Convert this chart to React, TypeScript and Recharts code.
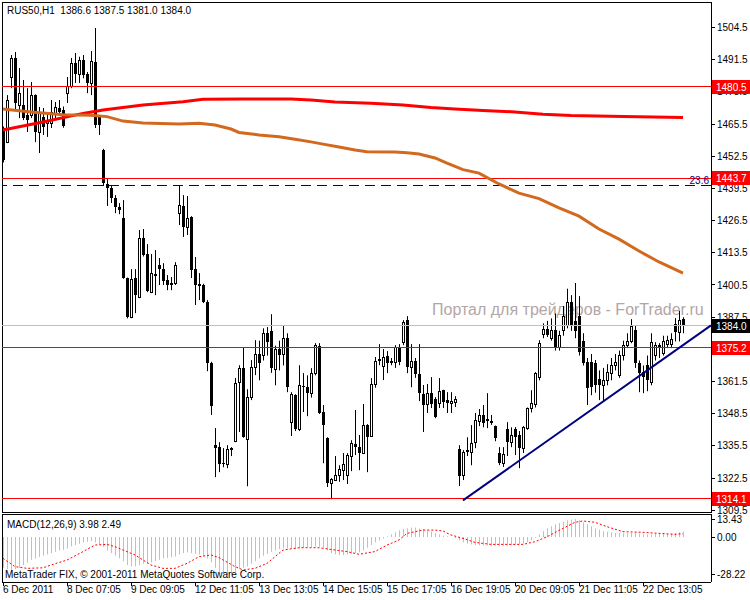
import { ComposedChart, Bar, Line, XAxis, YAxis, ReferenceLine } from 'recharts';

const FONT = '"Liberation Sans", Arial, sans-serif';

// hourly bars, left to right
const opens = [
  1463.9, 1458.2, 1484.5, 1492.2, 1473.2, 1473.2, 1469.1, 1469.1, 1477.2, 1462.3,
  1468.3, 1465.9, 1465.9, 1469.9, 1472.0, 1471.2, 1478.0, 1480.9, 1490.2, 1485.7,
  1491.4, 1485.7, 1482.1, 1490.6, 1468.3, 1455.0, 1441.3, 1439.6, 1435.6, 1432.0,
  1427.5, 1403.3, 1387.5, 1403.3, 1395.6, 1419.4, 1413.0, 1397.6, 1405.0, 1408.5,
  1406.9, 1402.5, 1401.3, 1401.3, 1429.5, 1432.4, 1423.9, 1427.9, 1406.9, 1400.9,
  1400.5, 1393.6, 1369.0, 1335.8, 1335.0, 1328.5, 1328.1, 1334.4, 1337.4, 1361.3,
  1366.9, 1338.2, 1355.2, 1367.3, 1372.6, 1372.2, 1381.1, 1382.0, 1366.5, 1374.6,
  1372.6, 1379.0, 1345.1, 1356.0, 1342.3, 1359.7, 1359.2, 1356.8, 1364.9, 1375.8,
  1349.2, 1338.6, 1320.5, 1321.7, 1323.7, 1325.7, 1323.7, 1331.4, 1336.2, 1335.0,
  1332.6, 1343.9, 1339.5, 1360.5, 1370.6, 1367.7, 1371.8, 1369.8, 1369.4, 1375.4,
  1377.4, 1386.3, 1367.3, 1369.8, 1364.5, 1356.4, 1352.4, 1356.8, 1354.4, 1352.8,
  1358.0, 1354.0, 1352.8, 1353.2, 1334.2, 1323.7, 1333.8, 1333.0, 1337.0, 1345.5,
  1347.9, 1346.3, 1345.1, 1343.5, 1332.6, 1328.5, 1342.3, 1337.0, 1342.3, 1339.9,
  1334.6, 1342.7, 1350.8, 1352.4, 1363.3, 1380.7, 1382.7, 1379.1, 1382.3, 1375.4,
  1382.3, 1384.3, 1393.6, 1386.0, 1388.0, 1378.0, 1369.4, 1369.4, 1369.0, 1362.5,
  1360.0, 1362.1, 1364.9, 1368.1, 1364.1, 1372.2, 1376.2, 1377.9, 1382.3, 1369.0,
  1365.3, 1368.0, 1361.3, 1372.2, 1376.2, 1373.0, 1376.6, 1376.6, 1384.7, 1381.5,
  1386.6,
];
const highs = [
  1464.5, 1477.2, 1493.4, 1494.6, 1488.1, 1483.3, 1480.0, 1482.5, 1477.5, 1472.4,
  1472.0, 1469.9, 1475.2, 1474.4, 1475.2, 1472.6, 1484.5, 1492.2, 1494.2, 1492.7,
  1493.4, 1486.5, 1495.0, 1504.3, 1469.1, 1455.5, 1443.7, 1440.9, 1436.8, 1433.6,
  1434.8, 1403.5, 1406.9, 1406.9, 1422.7, 1423.1, 1417.0, 1413.0, 1414.6, 1411.4,
  1409.3, 1404.5, 1403.7, 1409.7, 1440.5, 1436.8, 1436.4, 1428.3, 1411.8, 1405.3,
  1401.0, 1394.4, 1369.5, 1342.7, 1337.0, 1334.6, 1335.8, 1335.0, 1362.9, 1368.1,
  1375.4, 1358.4, 1370.2, 1378.2, 1378.0, 1383.0, 1383.5, 1388.7, 1376.0, 1378.0,
  1384.3, 1381.0, 1357.2, 1356.4, 1368.1, 1364.9, 1364.0, 1366.9, 1377.0, 1377.0,
  1352.0, 1339.0, 1322.5, 1331.4, 1327.7, 1332.6, 1332.6, 1337.8, 1350.0, 1339.9,
  1352.4, 1344.3, 1362.9, 1371.4, 1376.6, 1374.6, 1373.8, 1371.0, 1376.2, 1376.6,
  1386.3, 1387.9, 1376.6, 1371.0, 1376.6, 1360.1, 1360.5, 1363.3, 1355.2, 1362.9,
  1358.2, 1357.2, 1357.2, 1355.6, 1335.8, 1333.8, 1339.0, 1343.9, 1348.8, 1350.4,
  1352.0, 1356.8, 1348.0, 1343.7, 1335.0, 1335.0, 1345.1, 1343.0, 1343.1, 1341.5,
  1343.5, 1351.0, 1358.0, 1365.3, 1378.2, 1385.0, 1386.0, 1387.0, 1389.0, 1382.0,
  1392.0, 1399.0, 1396.4, 1401.3, 1396.0, 1381.0, 1371.0, 1372.6, 1370.2, 1366.0,
  1367.0, 1368.5, 1371.0, 1372.6, 1374.0, 1378.0, 1381.0, 1386.7, 1384.3, 1370.0,
  1368.0, 1372.0, 1381.0, 1377.4, 1377.0, 1380.0, 1380.0, 1381.0, 1387.1, 1390.0,
  1387.5,
];
const lows = [
  1450.0, 1457.8, 1480.0, 1471.2, 1467.9, 1467.1, 1462.3, 1467.9, 1458.2, 1453.8,
  1461.1, 1460.3, 1463.9, 1467.9, 1469.0, 1464.0, 1474.0, 1480.0, 1482.1, 1482.1,
  1484.0, 1478.0, 1477.2, 1463.9, 1461.1, 1440.5, 1432.4, 1433.6, 1429.5, 1429.1,
  1403.0, 1387.0, 1387.1, 1389.1, 1395.2, 1412.0, 1397.6, 1397.2, 1396.4, 1400.5,
  1400.5, 1398.4, 1398.4, 1400.5, 1424.7, 1419.9, 1420.7, 1403.3, 1392.4, 1394.4,
  1393.2, 1365.7, 1348.0, 1322.9, 1324.9, 1326.9, 1326.5, 1331.4, 1337.0, 1341.1,
  1338.8, 1319.2, 1354.0, 1364.1, 1362.0, 1370.0, 1372.0, 1365.0, 1360.0, 1366.0,
  1368.0, 1357.2, 1339.5, 1341.5, 1341.5, 1349.2, 1347.5, 1355.0, 1364.0, 1348.4,
  1328.5, 1318.9, 1314.0, 1321.3, 1321.0, 1321.7, 1320.1, 1325.3, 1331.8, 1325.7,
  1332.2, 1324.9, 1339.1, 1359.0, 1368.1, 1362.1, 1364.9, 1368.1, 1367.0, 1368.1,
  1376.2, 1364.9, 1359.2, 1363.0, 1353.6, 1341.1, 1348.8, 1350.8, 1346.7, 1350.8,
  1350.8, 1348.8, 1348.8, 1351.2, 1319.3, 1321.7, 1331.4, 1327.7, 1334.6, 1343.5,
  1343.0, 1342.7, 1344.0, 1337.4, 1327.7, 1327.0, 1331.4, 1335.0, 1331.8, 1326.5,
  1332.6, 1342.0, 1349.0, 1351.0, 1362.0, 1379.0, 1379.5, 1378.0, 1374.0, 1374.0,
  1380.0, 1383.0, 1382.0, 1379.0, 1372.0, 1368.0, 1352.0, 1356.0, 1357.0, 1354.0,
  1353.5, 1360.0, 1362.0, 1366.0, 1363.0, 1370.0, 1375.0, 1377.0, 1367.0, 1357.2,
  1356.8, 1357.6, 1360.0, 1370.0, 1371.0, 1372.0, 1375.0, 1375.0, 1377.7, 1377.7,
  1381.0,
];
const closes = [
  1451.0, 1475.2, 1492.2, 1474.0, 1478.0, 1467.9, 1467.1, 1477.2, 1462.3, 1469.9,
  1464.3, 1467.1, 1470.4, 1472.4, 1470.4, 1464.7, 1480.9, 1490.2, 1485.7, 1491.4,
  1485.3, 1482.1, 1491.0, 1465.1, 1465.1, 1441.7, 1439.6, 1435.6, 1432.0, 1430.8,
  1403.3, 1387.5, 1402.9, 1396.4, 1419.4, 1412.6, 1398.0, 1405.3, 1404.1, 1406.9,
  1402.1, 1400.5, 1400.5, 1408.5, 1432.8, 1423.9, 1427.5, 1406.5, 1400.5, 1400.1,
  1393.6, 1369.0, 1351.6, 1334.6, 1328.1, 1328.1, 1334.2, 1334.6, 1360.9, 1366.9,
  1339.1, 1355.2, 1367.3, 1372.6, 1369.0, 1381.1, 1377.5, 1367.0, 1374.6, 1372.2,
  1379.0, 1359.2, 1356.4, 1342.3, 1360.1, 1359.2, 1356.8, 1364.9, 1376.2, 1348.8,
  1343.9, 1320.5, 1322.1, 1323.7, 1326.1, 1328.1, 1331.8, 1336.6, 1335.0, 1332.6,
  1343.9, 1339.1, 1360.5, 1369.8, 1369.8, 1371.4, 1368.9, 1368.9, 1375.4, 1369.4,
  1385.5, 1367.3, 1369.8, 1364.5, 1356.8, 1352.0, 1356.8, 1352.4, 1347.1, 1357.6,
  1353.2, 1352.8, 1353.6, 1354.4, 1323.3, 1333.0, 1333.0, 1336.6, 1345.9, 1347.9,
  1344.7, 1345.5, 1345.5, 1338.6, 1328.5, 1332.2, 1337.0, 1339.9, 1339.1, 1334.6,
  1343.1, 1350.8, 1352.8, 1364.9, 1377.0, 1382.7, 1380.3, 1382.3, 1375.4, 1380.3,
  1387.9, 1393.6, 1384.3, 1382.0, 1373.4, 1369.0, 1358.8, 1359.2, 1360.0, 1360.0,
  1362.1, 1365.3, 1368.1, 1369.4, 1372.2, 1376.2, 1377.9, 1384.0, 1369.0, 1364.9,
  1363.3, 1362.0, 1377.4, 1376.2, 1375.0, 1377.9, 1378.2, 1378.6, 1381.5, 1386.3,
  1384.0,
];

// moving averages, read at a few bars
const slowMaBars = [0, 10, 20, 25, 35, 45, 50, 60, 72, 77, 83, 92, 100, 107, 113, 120, 128, 135, 142, 155, 170];
const slowMaValues = [1463.1, 1466.3, 1469.8, 1471.2, 1473.2, 1474.5, 1475.5, 1475.6, 1475.6, 1475.2, 1474.4, 1473.9, 1473.2, 1472.2, 1471.6, 1471.0, 1470.4, 1469.5, 1469.0, 1468.6, 1468.1];
const fastMaBars = [0, 7, 15, 22, 26, 30, 35, 44, 49, 53, 57, 59, 64, 69, 73, 77, 80, 84, 88, 91, 98, 101, 104, 108, 111, 115, 119, 124, 129, 134, 139, 144, 149, 154, 159, 164, 170];
const fastMaValues = [1471.6, 1470.4, 1469.3, 1469.1, 1468.5, 1466.7, 1465.9, 1465.5, 1465.8, 1465.1, 1463.5, 1462.1, 1461.1, 1460.4, 1459.4, 1458.3, 1457.4, 1456.2, 1455.0, 1454.3, 1454.2, 1453.9, 1453.4, 1451.8, 1449.7, 1447.1, 1445.7, 1441.3, 1437.6, 1435.4, 1431.6, 1428.3, 1423.1, 1419.0, 1414.2, 1409.8, 1405.3];

// MACD(12,26,9) main values per bar
const macdValues = [
  -23, -24, -25, -24, -23, -21, -19, -17, -16, -15,
  -14, -13, -12, -11, -10, -9.5, -8.5, -7, -6, -5,
  -4, -3.5, -3, -4, -5.5, -7.5, -10, -12, -14, -16,
  -18, -21, -22, -22, -21, -20, -20, -19, -18, -17,
  -16, -15.5, -15, -14.5, -13, -12, -11.5, -12, -12.5, -13,
  -14, -16, -19, -23, -26, -27.5, -28.2, -28, -26, -24,
  -23, -22, -20, -18, -16, -14, -12.5, -11, -10, -9,
  -8.5, -8.5, -8.8, -9, -8.5, -8, -7.8, -7.5, -7, -7.2,
  -8, -10, -12, -13, -13.5, -13.5, -13, -12.5, -12, -11.5,
  -10, -8, -6, -4, -2.5, -1, 0.5, 2, 3.5, 5,
  6, 6.5, 7, 7, 6.5, 6, 5, 4, 3, 2,
  1, 0.5, 0, -1, -2.5, -4, -5, -5.5, -6, -6.2,
  -6.2, -6.3, -6.3, -6.3, -6.5, -6.5, -6.2, -6, -5.8, -5.5,
  -5, -4, -2.5, -0.5, 2, 4.5, 6.5, 8, 9.5, 10.5,
  11.5, 12.5, 13, 13.43, 12.5, 11, 9.5, 8, 6.5, 5.5,
  4.5, 4, 3.5, 3, 3, 2.8, 2.8, 3, 3, 2.5,
  2, 1.8, 2, 2.2, 2.3, 2.3, 2.4, 2.5, 3, 3.5,
  3.98,
];
const signalBars = [0, 3, 6, 10, 12, 16, 20, 23, 26, 28, 33, 37, 40, 43, 46, 49, 52, 54, 58, 60, 63, 66, 70, 74, 79, 83, 86, 89, 93, 96, 99, 101, 105, 108, 110, 112, 115, 118, 122, 130, 133, 136, 140, 143, 145, 148, 151, 155, 160, 168, 170];
const signalValues = [-15.9, -22.1, -23.4, -23.0, -20.9, -17.2, -10.9, -6.0, -5.5, -7.2, -13.4, -20.9, -23.4, -23.4, -19.7, -14.7, -13.4, -15.4, -22.1, -24.6, -23.4, -19.7, -9.7, -8.0, -8.0, -9.7, -10.9, -12.9, -10.9, -6.0, -2.2, 2.7, 5.2, 5.2, 4.5, 1.5, -1.0, -4.0, -5.5, -5.5, -3.5, 0.2, 6.5, 11.0, 12.0, 11.0, 7.7, 4.0, 3.5, 2.0, 2.49];

const timeTicks = [0, 16, 32, 48, 64, 80, 96, 112, 128, 144, 160];
const timeLabels = ['6 Dec 2011', '8 Dec 07:05', '9 Dec 09:05', '12 Dec 11:05', '13 Dec 13:05', '14 Dec 15:05', '15 Dec 17:05', '16 Dec 19:05', '20 Dec 09:05', '21 Dec 11:05', '22 Dec 13:05'];
const priceTicks = [1504.5, 1491.5, 1478.5, 1465.5, 1452.5, 1439.5, 1426.5, 1413.5, 1400.5, 1387.5, 1374.5, 1361.5, 1348.5, 1335.5, 1322.5, 1309.5];
const macdTicks = [13.43, 0, -28.22];

const redLevels = [1480.5, 1443.7, 1375.2, 1314.1];
const bidPrice = 1384.0;
const fiboLevel = 1440.5;
const trendStart = { x: 115, y: 1313.5 };
const trendEnd = { x: 177, y: 1384.2 };

const priceDomain = [1308.8, 1514.8];
const macdDomain = [-33.6, 17.2];
const barDomain = [-0.25, 177];

const bars = opens.map((o, i) => ({
  i,
  open: o,
  high: highs[i],
  low: lows[i],
  close: closes[i],
  range: [lows[i], highs[i]],
  macd: macdValues[i],
  slow: undefined as number | undefined,
  fast: undefined as number | undefined,
  signal: undefined as number | undefined,
}));
slowMaBars.forEach((b, k) => { bars[b].slow = slowMaValues[k]; });
fastMaBars.forEach((b, k) => { bars[b].fast = fastMaValues[k]; });
signalBars.forEach((b, k) => { bars[b].signal = signalValues[k]; });

function Candle(props: any) {
  const { x, y, width, height, payload } = props;
  if (x == null || payload == null) return null;
  const top = Math.min(y, y + height);
  const h = Math.abs(height);
  const { open, close, high, low } = payload;
  const toY = (v: number) => (high === low ? top : top + ((high - v) / (high - low)) * h);
  const cx = Math.round(x + width / 2);
  const yo = toY(open);
  const yc = toY(close);
  const bTop = Math.round(Math.min(yo, yc));
  const bBot = Math.round(Math.max(yo, yc));
  return (
    <g>
      <rect x={cx} y={top} width={1} height={Math.max(h, 1)} fill="#000" />
      {close >= open ? (
        <rect x={cx - 0.5} y={bTop + 0.5} width={2} height={Math.max(bBot - bTop, 1)} fill="#fff" stroke="#000" strokeWidth={1} />
      ) : (
        <rect x={cx - 1} y={bTop} width={3} height={Math.max(bBot - bTop, 1)} fill="#000" />
      )}
    </g>
  );
}

function HistBar(props: any) {
  const { x, y, width, height } = props;
  if (x == null) return null;
  const top = Math.min(y, y + height);
  return <rect x={Math.round(x + width / 2)} y={top} width={1} height={Math.abs(height)} fill="#c0c0c0" />;
}

function PriceTag(props: any) {
  const { viewBox, text, bg } = props;
  if (!viewBox) return null;
  const xr = viewBox.x + viewBox.width;
  const yy = Math.round(viewBox.y);
  return (
    <g>
      <rect x={xr + 1} y={yy - 7} width={38} height={14} fill={bg} />
      <text x={xr + 5} y={yy + 4} fill="#fff" fontSize={10} fontFamily={FONT}>{text}</text>
    </g>
  );
}

function FiboTag(props: any) {
  const { viewBox } = props;
  if (!viewBox) return null;
  return (
    <text x={viewBox.x + viewBox.width - 2} y={viewBox.y - 2} textAnchor="end" fill="#000080" fontSize={10} fontFamily={FONT}>23.6</text>
  );
}

const tickStyle = { fill: '#000', fontSize: 10, fontFamily: FONT };

export default function App() {
  return (
    <div style={{ position: 'absolute', left: 0, top: 0, width: 750, height: 600, background: '#fff', fontFamily: FONT, overflow: 'hidden' }}>
      <div style={{ position: 'absolute', left: 432, top: 301, fontSize: 16, color: '#b4a6a6', whiteSpace: 'pre' }}>
        Портал для трейдеров - ForTrader.ru
      </div>
      <div style={{ position: 'absolute', left: 2, top: 2, width: 709, height: 509, borderTop: '1px solid #000', borderLeft: '1px solid #000', borderBottom: '1px solid #000' }} />
      <div style={{ position: 'absolute', left: 2, top: 514, width: 709, height: 68, borderTop: '1px solid #000', borderLeft: '1px solid #000' }} />

      {/* price panel */}
      <div style={{ position: 'absolute', left: 0, top: 0 }}>
        <ComposedChart width={750} height={530} data={bars} margin={{ top: 2, right: 0, bottom: 18, left: 2 }}>
          <XAxis dataKey="i" type="number" domain={barDomain} allowDataOverflow hide />
          <YAxis
            orientation="right"
            width={39}
            domain={priceDomain}
            allowDataOverflow
            ticks={priceTicks}
            interval={0}
            tickFormatter={(v: number) => v.toFixed(1)}
            tick={tickStyle}
            tickSize={4}
            tickMargin={2}
            axisLine={{ stroke: '#000', shapeRendering: 'crispEdges' }}
            tickLine={{ stroke: '#000', shapeRendering: 'crispEdges' }}
          />
          {redLevels.map((lv) => (
            <ReferenceLine key={lv} y={lv} stroke="#ff0000" strokeWidth={1} shapeRendering="crispEdges" />
          ))}
          <ReferenceLine y={bidPrice} stroke="#c0c0c0" strokeWidth={1} shapeRendering="crispEdges" />
          <ReferenceLine y={fiboLevel} stroke="#000080" strokeWidth={1} strokeDasharray="10 6" shapeRendering="crispEdges" label={<FiboTag />} />
          <Bar dataKey="range" barSize={3} shape={<Candle />} isAnimationActive={false} />
          <Line dataKey="slow" stroke="#ff0000" strokeWidth={3} dot={false} connectNulls type="linear" isAnimationActive={false} />
          <Line dataKey="fast" stroke="#d2691e" strokeWidth={3} dot={false} connectNulls type="linear" isAnimationActive={false} />
          <ReferenceLine segment={[trendStart, trendEnd]} stroke="#000080" strokeWidth={2} ifOverflow="visible" />
        </ComposedChart>
      </div>

      {/* price tags drawn above the axis labels */}
      <div style={{ position: 'absolute', left: 0, top: 0 }}>
        <ComposedChart width={750} height={530} data={bars} margin={{ top: 2, right: 39, bottom: 18, left: 2 }}>
          <XAxis dataKey="i" type="number" domain={barDomain} allowDataOverflow hide />
          <YAxis domain={priceDomain} allowDataOverflow hide />
          {redLevels.map((lv) => (
            <ReferenceLine key={lv} y={lv} stroke="none" label={<PriceTag text={lv.toFixed(1)} bg="#ff0000" />} />
          ))}
          <ReferenceLine y={bidPrice} stroke="none" label={<PriceTag text={bidPrice.toFixed(1)} bg="#000" />} />
        </ComposedChart>
      </div>

      {/* MACD panel */}
      <div style={{ position: 'absolute', left: 0, top: 512 }}>
        <ComposedChart width={750} height={88} data={bars} margin={{ top: 2, right: 0, bottom: 0, left: 2 }}>
          <XAxis
            dataKey="i"
            type="number"
            domain={barDomain}
            allowDataOverflow
            ticks={timeTicks}
            interval={0}
            tickFormatter={(v: number) => timeLabels[timeTicks.indexOf(v)] ?? ''}
            tick={{ ...tickStyle, textAnchor: 'start' }}
            tickSize={4}
            tickMargin={0}
            height={18}
            axisLine={{ stroke: '#000', shapeRendering: 'crispEdges' }}
            tickLine={{ stroke: '#000', shapeRendering: 'crispEdges' }}
          />
          <YAxis
            orientation="right"
            width={39}
            domain={macdDomain}
            allowDataOverflow
            ticks={macdTicks}
            interval={0}
            tickFormatter={(v: number) => v.toFixed(2)}
            tick={tickStyle}
            tickSize={4}
            tickMargin={2}
            axisLine={{ stroke: '#000', shapeRendering: 'crispEdges' }}
            tickLine={{ stroke: '#000', shapeRendering: 'crispEdges' }}
          />
          <Bar dataKey="macd" barSize={1} shape={<HistBar />} isAnimationActive={false} />
          <Line dataKey="signal" stroke="#ff0000" strokeWidth={1} strokeDasharray="2 2" dot={false} connectNulls type="linear" isAnimationActive={false} />
        </ComposedChart>
      </div>

      <div style={{ position: 'absolute', left: 7, top: 5, fontSize: 10, color: '#000', whiteSpace: 'pre' }}>
        RUS50,H1  1386.6 1387.5 1381.0 1384.0
      </div>
      <div style={{ position: 'absolute', left: 7, top: 519, fontSize: 10, color: '#000', whiteSpace: 'pre' }}>
        MACD(12,26,9) 3.98 2.49
      </div>
      <div style={{ position: 'absolute', left: 5, top: 569, fontSize: 10, color: '#000', whiteSpace: 'pre' }}>
        MetaTrader FIX, © 2001-2011 MetaQuotes Software Corp.
      </div>
    </div>
  );
}
